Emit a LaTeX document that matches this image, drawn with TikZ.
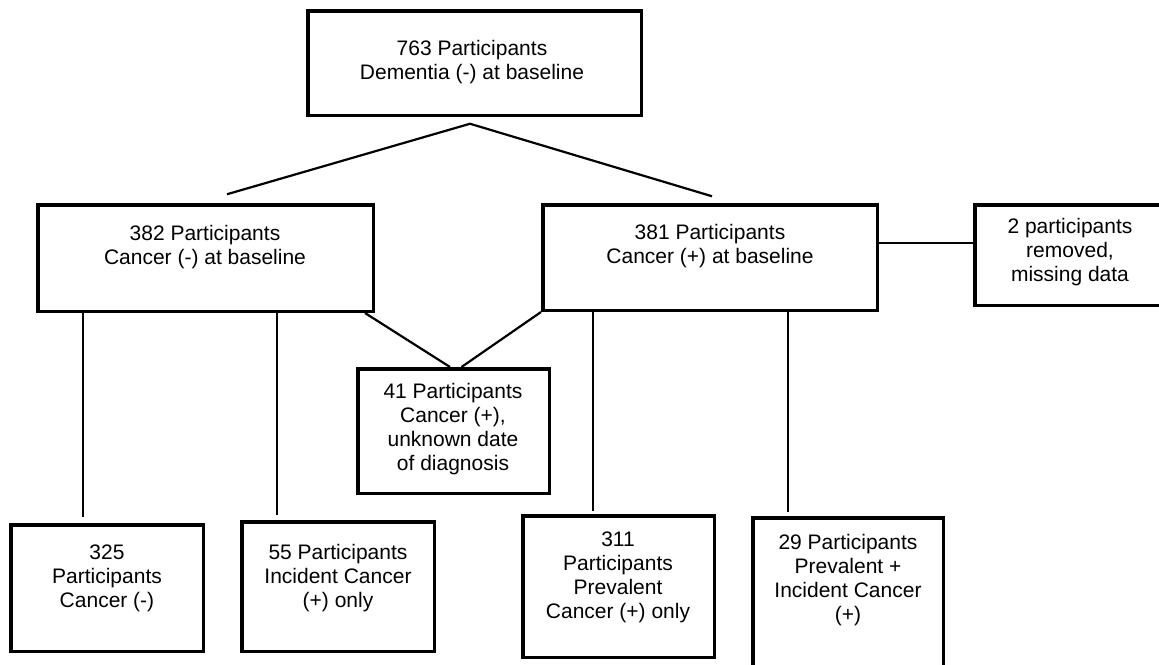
\documentclass[tikz,border=0pt]{standalone}
\usepackage{fontspec}
\setmainfont{Liberation Sans}
\usetikzlibrary{positioning,calc}
\begin{document}
\begin{tikzpicture}[x=1pt,y=-1pt]
        \tikzstyle{box}=[rectangle,draw=black,line width=3.5pt,inner sep=0pt]
        \tikzstyle{boxtext}=[align=center,inner sep=0pt,font=\fontsize{21}{24}\selectfont]
        \tikzstyle{link}=[draw,line width=2.2pt]
        \useasboundingbox (0,0) rectangle (1159,664);
        \clip (0,0) rectangle (1159,664);
        % boxes
        \node [box,minimum width=333.5pt,minimum height=104.5pt] (t763) at (474.5,63) {};
        \node [box,minimum width=335.5pt,minimum height=106.5pt] (b382) at (205.5,258) {};
        \node [box,minimum width=334.5pt,minimum height=105.5pt] (b381) at (710,257.5) {};
        \node [box,minimum width=189.5pt,minimum height=100.5pt] (b2) at (1069.5,255) {};
        \node [box,minimum width=191.5pt,minimum height=124.5pt] (b41) at (453.5,431) {};
        \node [box,minimum width=192.5pt,minimum height=126.5pt] (b325) at (107,588) {};
        \node [box,minimum width=192.5pt,minimum height=129.5pt] (b55) at (338,586.5) {};
        \node [box,minimum width=191.5pt,minimum height=141.5pt] (b311) at (618.5,586.5) {};
        \node [box,minimum width=190.5pt,minimum height=150.5pt] (b29) at (848,593) {};
        % texts
        \node [boxtext] (t763txt) at (472,62) {763 Participants\\Dementia (-) at baseline};
        \node [boxtext] (b382txt) at (205,247) {382 Participants\\Cancer (-) at baseline};
        \node [boxtext] (b381txt) at (710,246) {381 Participants\\Cancer (+) at baseline};
        \node [boxtext] (b2txt) at (1070,252) {2 participants\\removed,\\missing data};
        \node [boxtext] (b41txt) at (453,429) {41 Participants\\Cancer (+),\\unknown date\\of diagnosis};
        \node [boxtext] (b325txt) at (107,578) {325\\Participants\\Cancer (-)};
        \node [boxtext] (b55txt) at (338,578) {55 Participants\\Incident Cancer\\(+) only};
        \node [boxtext] (b311txt) at (618,577) {311\\Participants\\Prevalent\\Cancer (+) only};
        \node [boxtext] (b29txt) at (848,580) {29 Participants\\Prevalent +\\Incident Cancer\\(+)};
        % free ends
        \coordinate (apex) at ([xshift=-4.5pt,yshift=-6.75pt]t763.south);
        \coordinate (lft) at ([xshift=21.5pt,yshift=8.75pt]b382.north);
        \coordinate (rgt) at ([xshift=2pt,yshift=6.75pt]b381.north);
        \coordinate (f325) at ([xshift=-24pt,yshift=6pt]b325.north);
        \coordinate (f55) at ([xshift=-61pt,yshift=5pt]b55.north);
        \coordinate (f311) at ([xshift=-25.5pt,yshift=3pt]b311.north);
        \coordinate (f29) at ([xshift=-60pt,yshift=4pt]b29.north);
        % connectors
        \path[link] (lft) -- (apex) -- (rgt);
        \path[link] ([xshift=-10pt]b382.south east) -- ([xshift=-3.5pt]b41.north);
        \path[link] (b381.south west) -- ([xshift=8pt]b41.north);
        \path[link] ([yshift=14.5pt]b381.east) -- ([yshift=14.5pt]b381.east -| b2.west);
        \path[link] (f325 |- b382.south) -- (f325);
        \path[link] (f55 |- b382.south) -- (f55);
        \path[link] (f311 |- b381.south) -- (f311);
        \path[link] (f29 |- b381.south) -- (f29);
\end{tikzpicture}
\end{document}
